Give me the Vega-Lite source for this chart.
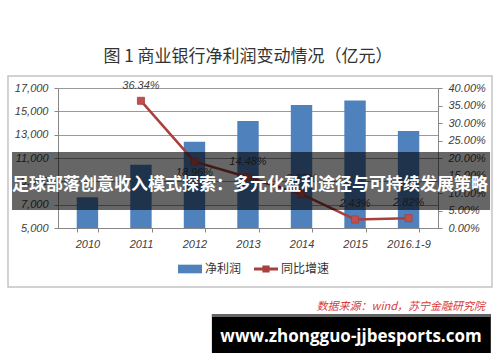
{
  "$schema": "https://vega.github.io/schema/vega-lite/v6.json",
  "width": 380,
  "height": 140,
  "autosize": {"type": "none"},
  "padding": {"left": 58, "top": 88, "right": 62, "bottom": 134},
  "background": "white",
  "config": {"view": {"stroke": null}, "font": "Noto Sans CJK SC"},
  "title": {
    "text": "图 1 商业银行净利润变动情况（亿元）",
    "font": "Noto Sans CJK SC",
    "fontSize": 17,
    "fontWeight": "normal",
    "color": "#333333",
    "anchor": "middle",
    "offset": 9
  },
  "layer": [
    {
      "data": {"values": [{"item": "frame"}]},
      "mark": {"type": "rect", "fill": null, "stroke": "#c4c4c4", "strokeWidth": 1.5, "clip": false},
      "encoding": {
        "x": {"datum": -0.1316, "type": "quantitative", "scale": {"domain": [0, 1], "nice": false, "zero": false}, "axis": null},
        "x2": {"datum": 1.1421},
        "y": {"datum": 1.0857, "type": "quantitative", "scale": {"domain": [0, 1], "nice": false, "zero": false}, "axis": null},
        "y2": {"datum": -0.4214}
      }
    },
    {
      "data": {
        "values": [
          {"year": "2010", "profit": 7637, "growth": null},
          {"year": "2011", "profit": 10412, "growth": 0.3634},
          {"year": "2012", "profit": 12386, "growth": 0.1896},
          {"year": "2013", "profit": 14180, "growth": 0.1448},
          {"year": "2014", "profit": 15548, "growth": 0.0965},
          {"year": "2015", "profit": 15926, "growth": 0.0243},
          {"year": "2016.1-9", "profit": 13315, "growth": 0.0282}
        ]
      },
      "encoding": {
        "x": {
          "field": "year", "type": "nominal", "sort": null,
          "scale": {"paddingInner": 0.6, "paddingOuter": 0.35},
          "axis": {
            "title": null, "labelAngle": 0, "labelFont": "Liberation Sans", "labelFontStyle": "italic",
            "labelFontSize": 11, "labelColor": "#404040", "tickBand": "extent", "tickSize": 4,
            "tickColor": "#888888", "domainColor": "#888888", "labelPadding": 6, "grid": false
          }
        }
      },
      "layer": [
        {
          "mark": {"type": "bar", "clip": true},
          "encoding": {
            "y": {
              "field": "profit", "type": "quantitative",
              "scale": {"domain": [5000, 17000], "nice": false, "zero": false},
              "axis": {
                "title": null, "values": [5000, 7000, 9000, 11000, 13000, 15000, 17000], "format": ",.0f",
                "labelFont": "Liberation Sans", "labelFontStyle": "italic", "labelFontSize": 11,
                "labelColor": "#404040", "tickSize": 4, "tickColor": "#888888", "domainColor": "#888888",
                "labelPadding": 6, "grid": true, "gridColor": "#999999", "gridWidth": 1
              }
            },
            "color": {
              "datum": "净利润",
              "scale": {"domain": ["净利润", "同比增速"], "range": ["#4F81BD", "#A8403E"]},
              "legend": {
                "title": null, "orient": "none", "legendX": 120, "legendY": 169, "direction": "horizontal",
                "symbolSize": 576, "symbolStrokeWidth": 0, "labelFontSize": 12, "labelColor": "#333333",
                "labelFont": "Noto Sans CJK SC", "columnPadding": 12, "labelOffset": 3,
                "encode": {
                  "symbols": {
                    "update": {
                      "shape": {"signal": "datum.value === '净利润' ? 'M-1,-0.36H1V0.36H-1Z' : 'M-1,-0.12H1V0.12H-1Z M-0.3,-0.3H0.3V0.3H-0.3Z'"},
                      "fill": {"scale": "color", "field": "value"},
                      "stroke": {"value": "transparent"},
                      "opacity": {"value": 1}
                    }
                  }
                }
              }
            }
          }
        },
        {
          "transform": [{"filter": "datum.growth != null"}],
          "encoding": {
            "y": {
              "field": "growth", "type": "quantitative",
              "scale": {"domain": [0, 0.4], "nice": false, "zero": false},
              "axis": {
                "orient": "right", "title": null, "values": [0, 0.05, 0.1, 0.15, 0.2, 0.25, 0.3, 0.35, 0.4],
                "format": ".2%", "labelFont": "Liberation Sans", "labelFontStyle": "italic", "labelFontSize": 11,
                "labelColor": "#404040", "tickSize": 4, "tickColor": "#888888", "domainColor": "#888888",
                "labelPadding": 6, "grid": false
              }
            }
          },
          "layer": [
            {
              "mark": {"type": "line", "strokeWidth": 2.5},
              "encoding": {"color": {"datum": "同比增速"}}
            },
            {
              "mark": {"type": "square", "size": 50, "filled": true, "color": "#C0504D", "stroke": "#A8403E", "strokeWidth": 0.8, "opacity": 1}
            },
            {
              "transform": [{"filter": "datum.year != '2012'"}],
              "mark": {"type": "text", "dy": -15, "font": "Liberation Sans", "fontStyle": "italic", "fontSize": 11, "color": "#404040"},
              "encoding": {"text": {"field": "growth", "format": ".2%"}}
            },
            {
              "transform": [{"filter": "datum.year == '2012'"}],
              "mark": {"type": "text", "dy": 11, "font": "Liberation Sans", "fontStyle": "italic", "fontSize": 11, "color": "#404040"},
              "encoding": {"text": {"field": "growth", "format": ".2%"}}
            }
          ]
        }
      ],
      "resolve": {"scale": {"y": "independent"}}
    },
    {
      "data": {"values": [{"text": "足球部落创意收入模式探索：多元化盈利途径与可持续发展策略"}]},
      "layer": [
        {
          "mark": {"type": "rect", "fill": "#000000", "fillOpacity": 0.6, "clip": false},
          "encoding": {
            "x": {"datum": -0.121, "type": "quantitative", "scale": {"domain": [0, 1], "nice": false, "zero": false}, "axis": null},
            "x2": {"datum": 1.137},
            "y": {"datum": 0.543, "type": "quantitative", "scale": {"domain": [0, 1], "nice": false, "zero": false}, "axis": null},
            "y2": {"datum": 0.129}
          }
        },
        {
          "mark": {"type": "text", "font": "Noto Sans CJK SC", "fontWeight": "bold", "fontSize": 17, "color": "#ffffff", "align": "center", "baseline": "middle", "clip": false},
          "encoding": {
            "x": {"datum": 0.505, "type": "quantitative", "scale": {"domain": [0, 1], "nice": false, "zero": false}, "axis": null},
            "y": {"datum": 0.307, "type": "quantitative", "scale": {"domain": [0, 1], "nice": false, "zero": false}, "axis": null},
            "text": {"field": "text"}
          }
        }
      ]
    },
    {
      "data": {"values": [{"source": "数据来源：wind，苏宁金融研究院", "site": "www.zhongguo-jjbesports.com"}]},
      "layer": [
        {
          "mark": {"type": "text", "font": "Noto Sans CJK SC", "fontStyle": "italic", "fontSize": 11, "color": "#d83a3a", "align": "right", "baseline": "middle", "clip": false},
          "encoding": {
            "x": {"datum": 1.1237, "type": "quantitative", "scale": {"domain": [0, 1], "nice": false, "zero": false}, "axis": null},
            "y": {"datum": -0.564, "type": "quantitative", "scale": {"domain": [0, 1], "nice": false, "zero": false}, "axis": null},
            "text": {"field": "source"}
          }
        },
        {
          "mark": {"type": "rect", "fill": "#000000", "clip": false},
          "encoding": {
            "x": {"datum": 0.405, "type": "quantitative", "scale": {"domain": [0, 1], "nice": false, "zero": false}, "axis": null},
            "x2": {"datum": 1.139},
            "y": {"datum": -0.614, "type": "quantitative", "scale": {"domain": [0, 1], "nice": false, "zero": false}, "axis": null},
            "y2": {"datum": -0.893}
          }
        },
        {
          "mark": {"type": "rect", "fill": "#666666", "clip": false},
          "encoding": {
            "x": {"datum": 0.405, "type": "quantitative", "scale": {"domain": [0, 1], "nice": false, "zero": false}, "axis": null},
            "x2": {"datum": 1.139},
            "y": {"datum": -0.614, "type": "quantitative", "scale": {"domain": [0, 1], "nice": false, "zero": false}, "axis": null},
            "y2": {"datum": -0.636}
          }
        },
        {
          "mark": {"type": "text", "font": "Open Sans", "fontWeight": "bold", "fontSize": 17, "color": "#ffffff", "align": "center", "baseline": "middle", "clip": false},
          "encoding": {
            "x": {"datum": 0.771, "type": "quantitative", "scale": {"domain": [0, 1], "nice": false, "zero": false}, "axis": null},
            "y": {"datum": -0.779, "type": "quantitative", "scale": {"domain": [0, 1], "nice": false, "zero": false}, "axis": null},
            "text": {"field": "site"}
          }
        }
      ]
    }
  ],
  "resolve": {"scale": {"x": "independent", "y": "independent", "color": "independent"}}
}
